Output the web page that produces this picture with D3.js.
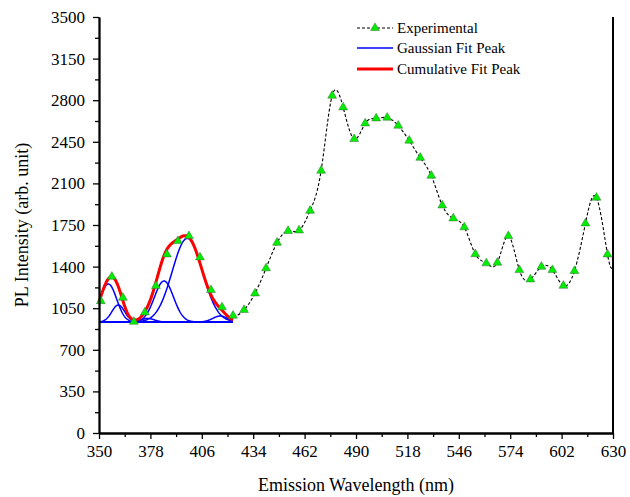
<!DOCTYPE html>
<html><head><meta charset="utf-8">
<script src="https://cdn.jsdelivr.net/npm/d3@7"></script>
<style>
body{margin:0;background:#fff}
svg{display:block}
text{font-family:"Liberation Serif","Times New Roman",serif;fill:#000}
</style>
</head><body>
<svg id="chart" width="630" height="497"></svg>
<script>
// ---- data ----
const wavelength = [351,357,363,369,375,381,387,393,399,405,411,417,423,429,435,441,447,453,459,465,471,477,483,489,495,501,507,513,519,525,531,537,543,549,555,561,567,573,579,585,591,597,603,609,615,621,627];
const intensity  = [1110,1315,1138,936,1015,1237,1503,1615,1657,1478,1203,1058,987,1035,1175,1386,1601,1700,1705,1870,2207,2838,2740,2473,2605,2647,2653,2586,2460,2316,2165,1915,1806,1731,1505,1428,1433,1657,1371,1293,1399,1371,1239,1363,1764,1980,1503];
const tailWavelength = [630];
const tailIntensity  = [1390];

const fitBaseline = 934;
const peakCenters    = [355.1,360.5,376.5,385.4,398.1,416.0];
const peakAmplitudes = [320,143,30,345,704,50];
const peakSigmas     = [4.5,3.5,3.5,5.2,8.2,4.0];
const fitRange = [350,423];

const xTicks = [350,378,406,434,462,490,518,546,574,602,630];
const xMinorTicks = [364,392,420,448,476,504,532,560,588,616];
const yTicks = [0,350,700,1050,1400,1750,2100,2450,2800,3150,3500];
const yMinorTicks = [175,525,875,1225,1575,1925,2275,2625,2975,3325];
const legendLabels = ["Experimental","Gaussian Fit Peak","Cumulative Fit Peak"];

// ---- layout ----
const W = 630, H = 497;
const m = {left:99, right:17, top:17, bottom:64};
const svg = d3.select("#chart");
const x = d3.scaleLinear().domain([350,630]).range([m.left, W-m.right]);
const y = d3.scaleLinear().domain([0,3500]).range([H-m.bottom, m.top]);

svg.append("defs").append("clipPath").attr("id","expClip")
  .append("rect").attr("x",x(fitRange[1])-1).attr("y",0).attr("width",W).attr("height",H);

// fit curves
const fitX = d3.range(fitRange[0], fitRange[1]+0.0001, 0.25);
const gauss = (v,i) => peakAmplitudes[i]*Math.exp(-((v-peakCenters[i])**2)/(2*peakSigmas[i]**2));
const line = d3.line().x(d=>x(d[0])).y(d=>y(d[1]));

// experimental line (hidden below the fit in the fitted range)
const expPts = wavelength.map((w,i)=>[w,intensity[i]]).concat(tailWavelength.map((w,i)=>[w,tailIntensity[i]]));
svg.append("path")
  .attr("clip-path","url(#expClip)")
  .attr("d", d3.line().x(d=>x(d[0])).y(d=>y(d[1])).curve(d3.curveNatural)(expPts))
  .attr("fill","none").attr("stroke","#000").attr("stroke-width",1.1)
  .attr("stroke-dasharray","3,2");

// gaussian components
peakCenters.forEach((c,i)=>{
  svg.append("path")
    .attr("d", line(fitX.map(v=>[v, fitBaseline + gauss(v,i)])))
    .attr("fill","none").attr("stroke","#0000ff").attr("stroke-width",1.5);
});
// cumulative
svg.append("path")
  .attr("d", line(fitX.map(v=>[v, fitBaseline + d3.sum(peakCenters,(c,i)=>gauss(v,i))])))
  .attr("fill","none").attr("stroke","#ff0000").attr("stroke-width",3);

// markers
const tri = d3.symbol().type(d3.symbolTriangle).size(34);
svg.append("g").selectAll("path").data(wavelength.map((w,i)=>[w,intensity[i]])).join("path")
  .attr("d", tri)
  .attr("transform", d=>`translate(${x(d[0])},${y(d[1])})`)
  .attr("fill","#00ee00").attr("stroke","#3c6e3c").attr("stroke-width",0.5);

// ---- axes ----
const fs = 17;
const gx = svg.append("g").attr("transform",`translate(0,${H-m.bottom})`)
  .call(d3.axisBottom(x).tickValues(xTicks).tickSize(6).tickPadding(6).tickSizeOuter(0).tickFormat(d3.format("d")));
const gxm = svg.append("g").attr("transform",`translate(0,${H-m.bottom})`)
  .call(d3.axisBottom(x).tickValues(xMinorTicks).tickSize(4).tickSizeOuter(0).tickFormat(""));
const gy = svg.append("g").attr("transform",`translate(${m.left},0)`)
  .call(d3.axisLeft(y).tickValues(yTicks).tickSize(6).tickPadding(8).tickSizeOuter(0).tickFormat(d3.format("d")));
const gym = svg.append("g").attr("transform",`translate(${m.left},0)`)
  .call(d3.axisLeft(y).tickValues(yMinorTicks).tickSize(4).tickSizeOuter(0).tickFormat(""));
[gx,gxm,gy,gym].forEach(g=>{
  g.selectAll(".domain").attr("stroke","#000").attr("stroke-width",1.8);
  g.selectAll(".tick line").attr("stroke","#000").attr("stroke-width",1.3);
  g.selectAll("text").attr("font-family",'"Liberation Serif","Times New Roman",serif').attr("font-size",fs).attr("fill","#000");
});
// right frame line
svg.append("line").attr("x1",x(630)).attr("x2",x(630)).attr("y1",y(3500)).attr("y2",y(0))
  .attr("stroke","#000").attr("stroke-width",2);

// titles
svg.append("text").attr("x",(m.left+W-m.right)/2).attr("y",491).attr("text-anchor","middle")
  .attr("font-size",18).text("Emission Wavelength (nm)");
svg.append("text").attr("transform",`translate(28,${(m.top+H-m.bottom)/2}) rotate(-90)`)
  .attr("text-anchor","middle").attr("font-size",18).text("PL Intensity (arb. unit)");

// ---- legend ----
const lg = svg.append("g");
const rowsY = [28,48,69];
const lx0 = 357, lx1 = 393;
lg.append("line").attr("x1",lx0).attr("x2",lx1).attr("y1",rowsY[0]).attr("y2",rowsY[0])
  .attr("stroke","#000").attr("stroke-width",1.1).attr("stroke-dasharray","3,2");
lg.append("path").attr("d",tri).attr("transform",`translate(${(lx0+lx1)/2},${rowsY[0]})`)
  .attr("fill","#00ee00").attr("stroke","#3c6e3c").attr("stroke-width",0.5);
lg.append("line").attr("x1",lx0).attr("x2",lx1).attr("y1",rowsY[1]).attr("y2",rowsY[1])
  .attr("stroke","#0000ff").attr("stroke-width",1.5);
lg.append("line").attr("x1",lx0).attr("x2",lx1).attr("y1",rowsY[2]).attr("y2",rowsY[2])
  .attr("stroke","#ff0000").attr("stroke-width",3);
legendLabels.forEach((t,i)=>{
  lg.append("text").attr("x",397).attr("y",rowsY[i]).attr("dy","0.35em")
    .attr("font-size",15).text(t);
});
</script>
</body></html>
